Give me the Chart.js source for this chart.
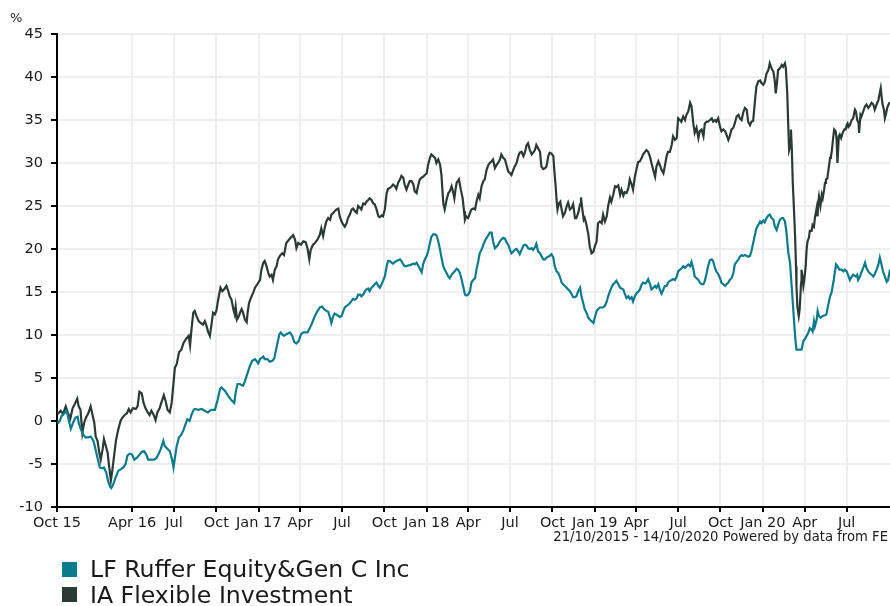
<!DOCTYPE html>
<html>
<head>
<meta charset="utf-8">
<script src="https://cdn.jsdelivr.net/npm/chart.js@4/dist/chart.umd.min.js"></script>
<style>
  html, body { margin: 0; padding: 0; background: #fff; }
  body { width: 890px; height: 606px; overflow: hidden; position: relative; font-family: "DejaVu Sans", Verdana, sans-serif; color: #1a1a1a; }
  #wrap { position: absolute; left: 0; top: 0; width: 895px; height: 606px; }
  .txt { position: absolute; white-space: nowrap; line-height: normal; }
  .sw { position: absolute; width: 15px; height: 15px; }
</style>
</head>
<body>
<div id="wrap"><canvas id="c" width="895" height="606"></canvas></div>
<div class="txt" style="left:10px; top:10px; font-size:13px;">%</div>
<div class="txt" style="left:0; width:888px; text-align:right; top:529px; font-size:13.2px;">21/10/2015 - 14/10/2020 Powered by data from FE</div>
<div id="legend"></div>
<script>
// x values are days since 21/10/2015 (start of the period); y values are cumulative % performance
const tickDays   = [0,163,254,346,438,528,619,711,803,893,984,1076,1168,1258,1349,1441,1533,1624,1715];
const tickLabels = ['Oct 15','Apr 16','Jul','Oct','Jan 17','Apr','Jul','Oct','Jan 18','Apr','Jul','Oct','Jan 19','Apr','Jul','Oct','Jan 20','Apr','Jul'];
const yTicks = [-10,-5,0,5,10,15,20,25,30,35,40,45];

const seriesNames = ['LF Ruffer Equity&Gen C Inc', 'IA Flexible Investment'];

const rufferPoints = [
[0,-0.1],[3,-0.2],[6,0.0],[10,0.6],[16,0.9],[21,1.2],[26,0.0],[30,-0.9],[35,-0.2],[40,0.4],[45,0.5],[47,-0.2],[52,-1.0],[57,-1.6],[62,-1.9],[68,-1.9],[73,-1.8],[79,-2.3],[82,-2.9],[88,-4.3],[93,-5.4],[98,-5.5],[102,-5.4],[107,-6.0],[111,-7.0],[115,-7.6],[118,-7.8],[122,-7.4],[127,-6.6],[133,-5.8],[139,-5.6],[144,-5.4],[149,-5.0],[153,-4.0],[158,-3.8],[163,-3.9],[168,-4.5],[173,-4.3],[178,-4.0],[184,-3.6],[189,-3.5],[194,-3.9],[198,-4.5],[205,-4.5],[211,-4.5],[216,-4.3],[220,-3.9],[225,-3.3],[231,-2.3],[234,-2.9],[239,-3.2],[245,-3.5],[250,-4.5],[253,-5.4],[256,-4.3],[260,-2.9],[265,-1.9],[270,-1.6],[275,-1.0],[279,-0.4],[283,0.2],[288,0.0],[292,0.7],[297,1.3],
[299,1.4],[307,1.3],[314,1.4],[321,1.2],[328,1.0],[332,1.2],[336,1.3],[343,1.3],[349,2.5],[354,3.7],[357,3.9],[365,3.5],[372,2.9],[379,2.4],[385,2.1],[388,3.3],[392,4.3],[397,4.3],[404,4.1],[408,4.6],[414,5.6],[419,6.4],[424,7.0],[430,7.2],[433,7.0],[437,6.7],[441,7.2],[444,7.3],[448,7.5],[451,7.2],[457,7.2],[462,6.9],[468,7.0],[472,7.3],[475,8.1],[479,9.1],[483,10.1],[486,10.3],[489,10.1],[493,9.9],[498,10.1],[506,10.3],[511,9.9],[515,9.2],[520,9.0],[525,9.3],[530,10.1],[535,10.3],[540,10.3],[544,10.3],[549,10.8],[554,11.4],[560,12.2],[566,12.8],[571,13.2],[576,13.3],[580,13.0],[585,12.8],[589,12.7],[593,12.0],[596,11.4],[600,12.2],
[603,12.5],[609,12.3],[614,12.1],[618,12.2],[622,12.8],[625,13.2],[629,13.4],[632,13.5],[636,13.7],[640,14.0],[643,14.2],[647,14.1],[651,14.3],[654,14.7],[658,14.7],[661,14.5],[665,14.7],[669,15.1],[672,15.3],[676,15.4],[679,15.1],[683,15.5],[687,15.7],[690,15.9],[694,16.1],[698,15.7],[701,15.5],[705,15.9],[708,16.3],[712,16.8],[716,18.0],[719,18.6],[723,18.6],[727,18.4],[730,18.3],[734,18.5],[737,18.6],[741,18.7],[745,18.8],[748,18.6],[752,18.2],[755,18.0],[759,18.0],[763,18.1],[766,18.1],[770,18.2],[774,18.3],[777,18.2],[781,18.4],[784,18.1],[788,17.7],[792,17.3],[795,18.2],[799,18.8],[803,19.2],[806,19.7],[810,20.7],[813,21.4],[817,21.7],[821,21.7],[824,21.6],[828,20.9],[832,19.9],[835,19.0],[839,18.0],[842,17.6],[846,17.2],[850,16.8],[853,16.6],[857,17.0],[860,17.2],[864,17.4],[868,17.7],[871,17.6],[875,17.2],[879,16.4],[882,15.7],[886,14.7],[889,14.6],[893,14.7],[897,15.1],[900,16.1],[904,16.4],
[908,16.6],[911,17.6],[915,18.6],[918,19.5],[922,19.9],[926,20.5],[929,20.9],[933,21.3],[937,21.6],[940,21.9],[944,21.9],[947,20.9],[951,20.1],[955,20.3],[958,20.5],[962,20.9],[965,21.1],[969,21.3],[973,21.2],[976,20.8],[980,20.5],[984,19.9],[987,19.5],[991,19.7],[994,19.9],[998,20.0],[1002,19.7],[1005,19.4],[1009,19.9],[1013,20.4],[1016,20.5],[1020,20.4],[1023,20.1],[1027,20.0],[1031,20.1],[1034,19.9],[1038,20.2],[1041,20.6],[1045,19.7],[1049,19.5],[1052,19.2],[1056,18.8],[1060,18.8],[1063,19.0],[1067,19.1],[1070,19.2],[1074,19.4],[1078,19.0],[1081,18.0],[1085,17.4],[1089,17.2],[1092,16.8],[1096,16.1],[1099,15.9],[1103,15.7],[1107,15.5],[1110,15.3],[1114,15.1],[1118,14.7],[1121,14.4],[1125,14.4],[1128,14.5],[1132,15.1],[1136,15.5],[1139,14.5],[1143,13.7],[1146,13.0],[1150,12.6],[1154,12.0],[1157,11.8],[1161,11.6],[1165,11.4],[1168,12.0],[1172,12.8],[1175,13.0],[1179,13.2],[1183,13.2],[1186,13.2],[1190,13.4],[1194,13.9],[1197,14.5],[1201,15.1],[1204,15.5],[1208,15.9],
[1212,16.1],[1215,16.3],[1219,15.9],[1223,15.5],[1226,15.4],[1230,15.3],[1233,14.8],[1237,14.3],[1241,14.5],[1244,14.2],[1248,14.4],[1251,13.9],[1255,14.5],[1259,14.9],[1262,15.0],[1266,15.3],[1270,15.9],[1273,16.1],[1277,16.0],[1280,16.1],[1284,16.5],[1288,15.9],[1291,15.3],[1295,15.5],[1299,15.7],[1302,15.5],[1306,15.9],[1309,15.3],[1313,14.8],[1317,15.3],[1320,15.7],[1324,15.7],[1327,16.1],[1331,16.3],[1335,16.4],[1338,16.5],[1342,16.4],[1346,16.8],[1349,17.4],[1353,17.6],[1356,17.7],[1360,18.0],[1364,17.8],[1367,18.0],[1371,18.2],[1375,18.0],[1378,18.5],[1382,17.7],[1385,16.8],[1389,16.6],[1393,16.4],[1396,16.1],[1400,15.9],[1404,15.9],[1407,16.3],[1411,17.2],[1414,18.0],[1418,18.7],[1422,18.8],[1425,18.6],[1429,17.8],[1432,17.4],[1436,17.1],[1440,16.6],[1443,16.1],[1447,15.9],[1451,15.7],[1454,15.9],[1458,16.1],[1461,16.4],[1465,16.6],[1469,17.2],[1472,18.2],[1476,18.5],[1480,18.8],[1483,19.1],[1487,19.3],[1490,19.2],[1494,19.3],[1498,19.2],[1501,19.1],
[1505,19.2],[1508,19.7],[1512,20.7],[1516,21.7],[1519,22.4],[1523,22.8],[1527,23.2],[1530,23.0],[1534,23.3],[1537,23.1],[1541,23.6],[1545,23.9],[1548,24.0],[1552,23.6],[1556,23.4],[1559,22.6],[1563,22.2],[1566,22.8],[1570,23.4],[1574,23.6],[1577,23.6],[1581,23.2],[1584,22.1],[1588,19.7],[1592,18.4],[1595,16.1],[1599,13.0],[1603,9.9],[1606,8.3],[1610,8.3],[1613,8.3],[1617,8.3],[1621,9.3],[1624,9.5],[1628,9.9],[1632,10.3],[1635,10.8],[1639,10.6],[1641,10.4],[1644,11.6],[1646,11.0],[1650,11.8],[1652,12.8],[1655,12.2],[1658,12.0],[1663,12.2],[1668,12.3],[1671,12.4],[1675,13.5],[1679,14.5],[1682,14.9],[1684,15.5],[1687,16.4],[1689,17.2],[1692,18.2],[1695,18.0],[1699,17.6],[1704,17.6],[1708,17.4],[1711,17.6],[1715,17.4],[1718,17.0],[1722,16.4],[1726,16.8],[1729,17.0],[1735,16.8],[1738,17.0],[1740,16.4],[1744,16.8],[1747,17.3],[1751,17.8],[1755,18.4],[1758,17.8],[1762,17.4],[1765,17.2],[1769,17.0],[1773,16.8],[1776,17.1],[1780,17.6],[1784,18.2],[1787,19.0],[1791,18.1],[1794,17.4],[1798,16.8],[1802,16.2],[1805,16.4],[1809,17.6]
];

const flexiblePoints = [
[0,1.0],[3,0.9],[8,1.2],[13,0.8],[19,1.7],[24,0.9],[29,0.3],[34,1.5],[39,2.0],[44,2.6],[47,1.7],[51,1.3],[55,-1.4],[59,-0.2],[63,0.4],[68,0.9],[73,1.7],[76,1.0],[81,-0.2],[84,-1.8],[88,-2.3],[92,-3.7],[95,-4.5],[99,-3.3],[102,-2.1],[106,-2.9],[110,-3.7],[113,-5.2],[117,-6.9],[120,-5.8],[123,-4.5],[128,-2.3],[133,-1.0],[138,0.0],[142,0.4],[147,0.7],[152,0.9],[156,1.4],[160,1.0],[165,1.5],[171,1.4],[175,1.7],[179,3.4],[184,3.2],[188,2.1],[192,1.5],[197,1.0],[201,0.7],[205,1.2],[210,0.7],[214,0.1],[218,1.0],[223,1.5],[227,2.2],[232,3.0],[236,2.3],[240,1.3],[245,1.0],[249,2.1],[253,4.4],[256,6.2],[260,6.6],[265,8.0],[270,8.3],[275,9.1],[281,9.6],[286,9.9],[289,8.8],[292,10.6],[296,12.6],
[299,12.8],[303,12.2],[308,11.6],[312,11.4],[317,11.2],[321,11.6],[325,11.0],[328,10.4],[332,9.9],[336,11.4],[339,12.6],[343,12.4],[346,12.8],[350,14.1],[355,15.5],[359,15.1],[363,15.3],[368,15.7],[372,15.1],[375,14.5],[379,14.1],[383,13.0],[386,12.4],[388,13.3],[391,11.8],[395,12.2],[399,12.8],[401,13.0],[404,12.6],[408,11.8],[412,11.5],[414,12.6],[417,13.7],[421,14.3],[426,14.9],[430,15.5],[435,15.9],[441,16.4],[444,17.6],[448,18.4],[451,18.6],[455,18.0],[459,17.2],[462,16.8],[466,17.0],[469,16.4],[473,17.6],[477,18.0],[480,18.8],[484,19.2],[489,19.5],[493,19.3],[498,20.7],[504,21.1],[509,21.4],[513,21.6],[517,21.1],[520,20.1],[524,20.7],[530,20.5],[535,20.9],[540,20.8],[544,20.1],[548,18.8],[551,19.9],[556,20.5],[560,20.7],[566,21.1],[571,21.7],[574,22.4],[578,21.5],[582,22.6],[585,23.2],[589,23.6],[593,23.4],[596,24.0],[600,24.2],
[603,24.4],[607,24.6],[611,24.7],[614,23.8],[618,23.2],[622,22.8],[625,22.6],[629,23.0],[632,23.6],[636,24.0],[640,24.6],[643,24.7],[647,24.4],[651,24.2],[654,25.0],[658,24.8],[661,24.6],[665,25.3],[669,25.2],[672,25.5],[676,25.7],[679,25.9],[683,25.7],[687,25.3],[690,25.2],[694,24.6],[698,23.8],[701,23.7],[705,23.9],[708,23.8],[712,24.6],[716,26.5],[719,27.0],[723,27.1],[727,27.3],[730,27.5],[734,27.3],[737,27.0],[741,27.7],[745,28.1],[748,28.5],[752,28.3],[755,27.5],[759,26.9],[763,27.5],[766,27.9],[770,27.9],[774,27.5],[777,26.7],[781,26.5],[784,27.3],[788,28.1],[792,28.3],[795,28.4],[799,28.6],[803,28.8],[806,29.8],[810,30.6],[813,31.0],[817,30.8],[821,30.6],[824,30.0],[828,30.4],[832,29.8],[835,28.6],[837,26.9],[839,25.3],[842,24.6],[846,25.7],[850,26.5],[853,26.7],[857,27.3],[860,26.7],[863,25.9],[866,27.1],[868,27.7],[873,28.1],[877,26.9],[881,25.9],[884,24.4],[886,23.4],[889,23.8],[893,23.6],[897,24.2],[900,24.6],[904,24.7],
[908,24.6],[911,25.5],[915,26.3],[918,25.9],[922,27.3],[926,27.9],[929,28.1],[933,29.2],[937,29.8],[940,30.0],[944,30.2],[947,30.4],[951,29.4],[955,29.8],[958,30.0],[962,30.4],[965,31.0],[969,30.6],[973,30.4],[976,29.8],[980,29.0],[984,28.8],[987,28.6],[991,29.2],[994,29.6],[998,30.0],[1002,30.8],[1005,31.2],[1009,31.3],[1013,30.8],[1016,31.2],[1020,32.1],[1023,32.3],[1027,31.5],[1031,31.0],[1034,31.2],[1038,31.5],[1041,32.1],[1045,31.7],[1049,31.3],[1052,29.6],[1056,29.3],[1060,29.4],[1063,29.6],[1067,30.8],[1070,31.2],[1074,31.1],[1078,30.8],[1080,29.2],[1083,27.3],[1085,25.7],[1087,24.6],[1090,25.3],[1093,25.5],[1096,24.6],[1099,23.8],[1103,24.2],[1107,25.0],[1110,25.4],[1114,24.6],[1118,24.8],[1121,25.2],[1125,23.6],[1128,23.6],[1132,24.2],[1136,25.2],[1138,26.0],[1141,24.6],[1144,23.4],[1146,23.6],[1150,22.8],[1154,21.7],[1157,20.3],[1161,19.5],[1165,19.7],[1168,20.3],[1172,20.9],[1175,23.0],[1179,23.2],[1183,23.0],[1186,24.0],[1190,23.2],[1194,23.8],[1197,25.0],[1201,26.0],[1204,25.5],[1208,26.3],
[1212,27.3],[1215,27.2],[1219,27.4],[1223,26.3],[1226,26.9],[1230,26.2],[1233,26.6],[1237,26.5],[1241,27.1],[1244,28.1],[1248,27.5],[1251,26.9],[1255,28.4],[1259,29.4],[1262,30.1],[1266,30.2],[1270,30.6],[1273,31.0],[1277,31.3],[1280,31.5],[1284,31.3],[1288,30.7],[1291,30.0],[1295,29.2],[1299,28.4],[1302,29.6],[1306,30.2],[1309,29.8],[1313,29.2],[1317,28.8],[1320,29.6],[1324,30.8],[1327,31.3],[1331,31.3],[1335,32.1],[1338,33.1],[1342,32.7],[1346,32.9],[1349,35.2],[1353,35.0],[1356,34.8],[1360,35.4],[1364,35.0],[1367,35.6],[1371,36.0],[1375,37.0],[1378,36.6],[1382,34.6],[1385,33.5],[1389,34.1],[1393,32.9],[1396,33.7],[1400,33.9],[1404,33.1],[1407,34.6],[1411,34.8],[1414,34.8],[1418,35.0],[1422,35.2],[1425,34.8],[1429,35.0],[1432,34.8],[1436,35.2],[1440,34.2],[1443,33.7],[1447,33.9],[1451,33.7],[1454,33.3],[1458,32.7],[1461,33.1],[1465,33.9],[1469,34.1],[1472,34.6],[1476,35.4],[1480,35.6],[1483,35.2],[1487,35.0],[1490,35.8],[1494,36.4],[1498,36.2],[1501,34.8],
[1505,34.4],[1508,34.8],[1512,34.9],[1516,37.3],[1519,38.9],[1523,39.5],[1527,39.6],[1530,39.3],[1534,39.1],[1537,39.4],[1541,40.4],[1545,40.8],[1548,41.6],[1552,41.0],[1556,40.6],[1559,39.5],[1561,38.1],[1564,39.5],[1566,40.8],[1570,41.0],[1574,41.4],[1577,41.2],[1581,41.6],[1583,41.0],[1586,38.1],[1588,34.6],[1590,31.5],[1592,31.9],[1594,33.9],[1596,31.5],[1598,27.7],[1600,25.3],[1603,21.5],[1605,18.0],[1606,15.7],[1608,13.3],[1611,12.2],[1613,13.0],[1616,16.1],[1617,17.6],[1619,16.8],[1621,15.7],[1623,16.4],[1626,18.0],[1628,19.9],[1630,20.9],[1633,21.3],[1635,22.1],[1639,22.1],[1641,22.8],[1644,22.6],[1646,23.6],[1648,24.2],[1650,24.8],[1652,23.8],[1653,25.3],[1655,26.1],[1658,25.0],[1661,26.3],[1663,25.9],[1666,26.9],[1668,27.7],[1670,28.1],[1673,28.2],[1676,29.4],[1679,30.6],[1681,30.8],[1683,31.5],[1686,33.1],[1688,33.9],[1691,33.7],[1693,32.9],[1695,30.0],[1698,33.1],[1700,33.3],[1703,32.9],[1705,33.3],[1708,33.7],[1710,33.9],[1713,33.9],[1715,34.4],[1717,34.6],[1719,34.2],[1722,34.4],[1726,35.0],[1729,35.2],[1733,36.2],[1735,36.0],[1738,35.0],[1741,34.6],[1742,33.5],[1745,35.6],[1747,35.4],[1751,36.0],[1755,36.6],[1758,36.8],[1762,36.4],[1765,36.6],[1769,37.0],[1773,36.8],[1776,36.2],[1780,36.8],[1784,37.3],[1786,37.9],[1789,38.7],[1791,37.7],[1793,36.8],[1796,36.2],[1798,35.2],[1800,35.6],[1803,36.4],[1806,36.8],[1809,37.1]
];

const seriesColors = ['#0b7a8b', '#2c3a36'];

const toXY = pts => pts.map(p => ({ x: p[0], y: p[1] }));

const FONT = '"DejaVu Sans", Verdana, sans-serif';

new Chart(document.getElementById('c'), {
  type: 'line',
  data: {
    datasets: [
      { label: seriesNames[0], data: toXY(rufferPoints), borderColor: seriesColors[0], backgroundColor: seriesColors[0], borderWidth: 2.2, pointRadius: 0, tension: 0, fill: false },
      { label: seriesNames[1], data: toXY(flexiblePoints), borderColor: seriesColors[1], backgroundColor: seriesColors[1], borderWidth: 2.2, pointRadius: 0, tension: 0, fill: false }
    ]
  },
  options: {
    responsive: false,
    animation: false,
    devicePixelRatio: 1,
    layout: { padding: { top: 34, right: 0, bottom: 0, left: 0 } },
    plugins: { legend: { display: false }, tooltip: { enabled: false } },
    scales: {
      x: {
        type: 'linear',
        min: 0,
        max: 1820,
        afterFit: s => { s.height = 99; },
        afterBuildTicks: s => { s.ticks = tickDays.map(v => ({ value: v })); },
        ticks: {
          autoSkip: false, maxRotation: 0, minRotation: 0, padding: 3,
          color: '#1a1a1a', font: { family: FONT, size: 14.5 },
          callback: v => { const i = tickDays.indexOf(v); return i >= 0 ? tickLabels[i] : ''; }
        },
        grid: { color: '#eeeeee', lineWidth: 2, tickColor: '#000', tickLength: 5, tickWidth: 2, drawTicks: true },
        border: { color: '#000', width: 2 }
      },
      y: {
        type: 'linear',
        min: -10,
        max: 45,
        afterFit: s => { s.width = 57; },
        afterBuildTicks: s => { s.ticks = yTicks.map(v => ({ value: v })); },
        ticks: {
          padding: 8, color: '#1a1a1a', font: { family: FONT, size: 14.5 },
          callback: v => String(v)
        },
        grid: { color: '#eeeeee', lineWidth: 2, tickColor: '#000', tickLength: 6, tickWidth: 2, drawTicks: true },
        border: { color: '#000', width: 2 }
      }
    }
  }
});

// HTML legend built from the series names/colours
const leg = document.getElementById('legend');
seriesNames.forEach((name, i) => {
  const sw = document.createElement('div');
  sw.className = 'sw';
  sw.style.left = '62px';
  sw.style.top = (562 + i * 25) + 'px';
  sw.style.background = seriesColors[i];
  leg.appendChild(sw);
  const t = document.createElement('div');
  t.className = 'txt';
  t.style.left = '90px';
  t.style.top = (555 + i * 26) + 'px';
  t.style.fontSize = '23.6px';
  t.textContent = name;
  leg.appendChild(t);
});
</script>
</body>
</html>
